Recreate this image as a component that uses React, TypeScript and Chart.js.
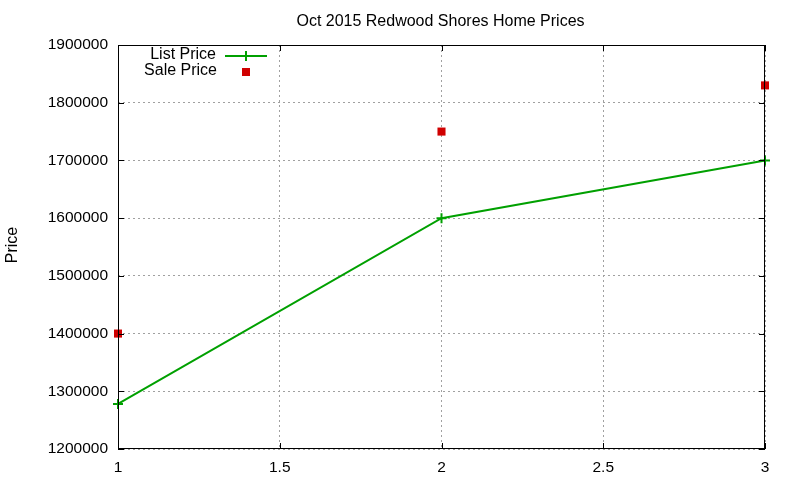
import React, { useEffect, useRef } from "react";
import { Chart, registerables } from "chart.js";

Chart.register(...registerables);

const xValues = [1, 2, 3];
const listPrice = [1278000, 1600000, 1700000];
const salePrice = [1400000, 1750000, 1830000];
const titleText = "Oct 2015 Redwood Shores Home Prices";
const yTitle = "Price";
const legendLabels = ["List Price", "Sale Price"];

const FONT = "'Liberation Sans', Arial, sans-serif";
const GREEN = "#00a000";
const RED = "#d00000";

const gnuplotPlugin = {
  id: "gnuplotDeco",
  afterDraw(chart: any) {
    const { ctx, chartArea } = chart;
    const { left, right, top, bottom } = chartArea;
    const xs = chart.scales.x;
    const ys = chart.scales.y;
    ctx.save();
    ctx.strokeStyle = "#000";
    ctx.lineWidth = 1;
    ctx.setLineDash([]);
    ctx.strokeRect(left + 0.5, top + 0.5, right - left - 1, bottom - top - 1);
    ctx.beginPath();
    ys.ticks.forEach((t: any) => {
      const y = Math.round(ys.getPixelForValue(t.value)) + 0.5;
      ctx.moveTo(left, y);
      ctx.lineTo(left + 6, y);
      ctx.moveTo(right, y);
      ctx.lineTo(right - 6, y);
    });
    xs.ticks.forEach((t: any) => {
      const x = Math.round(xs.getPixelForValue(t.value)) + 0.5;
      ctx.moveTo(x, bottom);
      ctx.lineTo(x, bottom - 6);
      ctx.moveTo(x, top);
      ctx.lineTo(x, top + 6);
    });
    ctx.stroke();
    ctx.fillStyle = "#000";
    ctx.font = `16px ${FONT}`;
    ctx.textAlign = "center";
    ctx.textBaseline = "middle";
    ctx.fillText(titleText, (left + right) / 2 - 1, 22);
    ctx.save();
    ctx.translate(13, 245);
    ctx.rotate(-Math.PI / 2);
    ctx.fillText(yTitle, 0, 0);
    ctx.restore();
    ctx.textAlign = "right";
    ctx.fillText(legendLabels[0], 216, 55);
    ctx.fillText(legendLabels[1], 217, 71);
    ctx.strokeStyle = GREEN;
    ctx.lineWidth = 2;
    ctx.beginPath();
    ctx.moveTo(225, 56);
    ctx.lineTo(267, 56);
    ctx.moveTo(246, 51);
    ctx.lineTo(246, 61);
    ctx.stroke();
    ctx.fillStyle = RED;
    ctx.fillRect(242, 68, 8, 8);
    ctx.restore();
  },
};

export default function App() {
  const ref = useRef<HTMLCanvasElement>(null);
  useEffect(() => {
    document.body.style.margin = "0";
    const chart = new Chart(ref.current!, {
      type: "line",
      data: {
        datasets: [
          {
            label: legendLabels[0],
            data: xValues.map((x, i) => ({ x, y: listPrice[i] })),
            borderColor: GREEN,
            backgroundColor: GREEN,
            borderWidth: 2,
            pointStyle: "cross",
            pointRadius: 5,
            pointBorderWidth: 2,
            pointBorderColor: GREEN,
            fill: false,
            tension: 0,
            clip: false as any,
          },
          {
            label: legendLabels[1],
            data: xValues.map((x, i) => ({ x, y: salePrice[i] })),
            showLine: false,
            borderColor: RED,
            backgroundColor: RED,
            pointStyle: "rect",
            pointRadius: 5.7,
            pointBorderWidth: 0,
            clip: false as any,
          },
        ],
      },
      options: {
        animation: false,
        responsive: false,
        layout: { padding: { top: 45, right: 35, left: 0, bottom: 0 } },
        plugins: {
          legend: { display: false },
          title: { display: false },
          tooltip: { enabled: false },
        },
        scales: {
          x: {
            type: "linear",
            min: 1,
            max: 3,
            border: { display: false, dash: [2, 3] },
            grid: { color: "#a0a0a0", drawTicks: false },
            ticks: {
              stepSize: 0.5,
              color: "#000",
              padding: 9,
              font: { family: FONT, size: 15.5 },
              maxRotation: 0,
              callback: (v: any) => String(v),
            },
            afterFit(s: any) {
              s.height = 31;
            },
          },
          y: {
            min: 1200000,
            max: 1900000,
            border: { display: false, dash: [2, 3] },
            grid: { color: "#a0a0a0", drawTicks: false },
            ticks: {
              stepSize: 100000,
              color: "#000",
              padding: 10,
              font: { family: FONT, size: 15.5 },
              callback: (v: any) => String(v),
            },
            afterFit(s: any) {
              s.width = 118;
            },
          },
        },
      },
      plugins: [gnuplotPlugin],
    });
    return () => chart.destroy();
  }, []);
  return <canvas ref={ref} width={800} height={480} style={{ display: "block" }} />;
}
